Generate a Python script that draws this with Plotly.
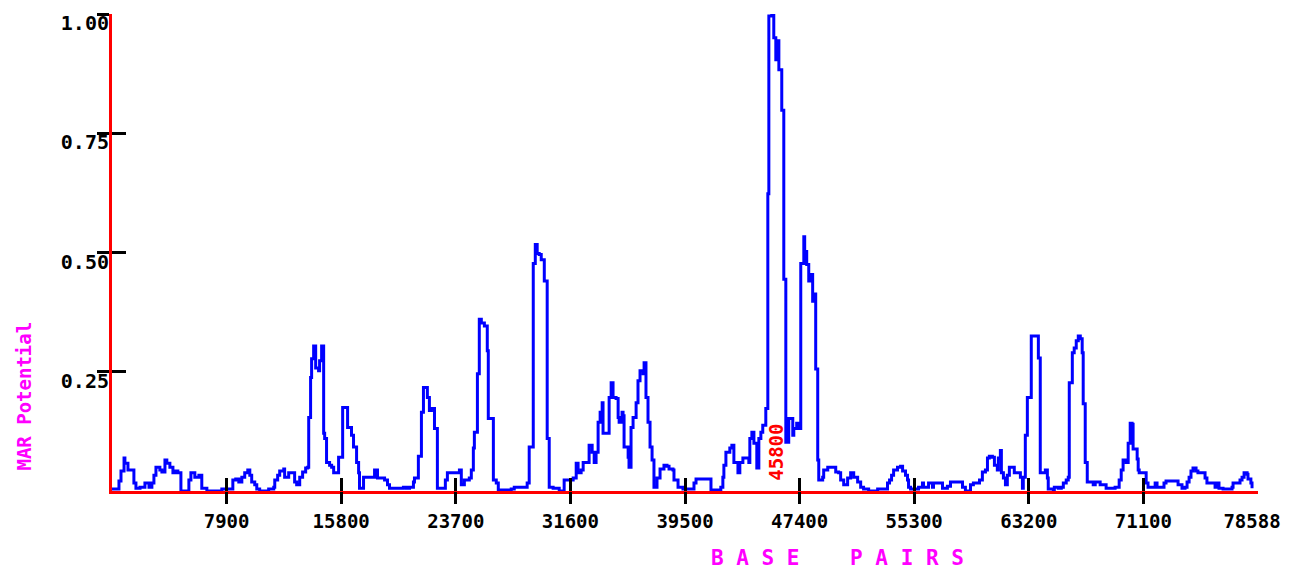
import plotly.graph_objects as go

# MAR potential profile along the sequence (step breakpoints: base pair -> value)
base_pairs = [
    0, 480, 620, 830, 890, 1100, 1510, 1650, 1930, 2270, 2550, 2750, 2890, 3030,
    3300, 3440, 3650, 3780, 3990, 4200, 4340, 4540, 4750, 5300, 5440, 5710, 5990,
    6190, 6540, 7570, 8330, 8530, 8740, 8950, 9150, 9360, 9500, 9630, 9840, 9980,
    10180, 10800, 11150, 11220, 11420, 11560, 11840, 11900, 12180, 12590, 12730,
    12940, 13140, 13350, 13490, 13560, 13690, 13760, 13900, 14040, 14240, 14310,
    14450, 14590, 14660, 14790, 15000, 15140, 15280, 15620, 15900, 16240, 16510,
    16650, 16860, 17000, 17060, 17340, 18100, 18300, 18790, 18990, 19130, 19400,
    20090, 20300, 20510, 20780, 20850, 21120, 21330, 21470, 21740, 21880, 22020,
    22230, 22430, 22980, 23120, 23950, 24080, 24290, 24630, 24770, 24910, 24980,
    25190, 25320, 25460, 25670, 25870, 25940, 26290, 26490, 26630, 27520, 27730,
    28620, 28760, 29040, 29180, 29310, 29450, 29590, 29800, 30000, 30140, 30410,
    30830, 31170, 31790, 32000, 32130, 32340, 32480, 32890, 33100, 33240, 33370,
    33510, 33650, 33790, 33850, 34270, 34410, 34540, 34750, 34890, 34960, 35160,
    35230, 35300, 35580, 35640, 35780, 35920, 36130, 36260, 36400, 36610, 36680,
    36810, 36950, 37090, 37230, 37360, 37570, 37780, 38050, 38260, 38400, 38670,
    38740, 39020, 39360, 40120, 40260, 41290, 41970, 42110, 42180, 42320, 42590,
    42730, 42870, 43150, 43280, 43490, 43900, 43970, 44110, 44250, 44450, 44590,
    44730, 44860, 45070, 45210, 45280, 45480, 45620, 45760, 45900, 45970, 46170,
    46310, 46450, 46650, 46930, 47000, 47200, 47340, 47480, 47690, 47750, 47890,
    48030, 48170, 48300, 48370, 48510, 48650, 48720, 48990, 49060, 49340, 49890,
    50090, 50230, 50440, 50710, 50920, 51130, 51400, 51610, 51810, 52160, 52780,
    53460, 53600, 53740, 53880, 54150, 54360, 54500, 54700, 54840, 54910, 55050,
    55600, 55870, 55940, 56290, 56560, 56630, 57250, 57590, 57800, 58630, 58830,
    59180, 59380, 59800, 60000, 60210, 60350, 60480, 60690, 60830, 61030, 61100,
    61240, 61310, 61450, 61590, 61720, 61860, 62200, 62620, 62760, 62820, 62960,
    63100, 63370, 63860, 63990, 64340, 64480, 64540, 64890, 64960, 65230, 65440,
    65580, 65780, 65920, 65990, 66200, 66330, 66470, 66610, 66750, 66880, 66950,
    67090, 67230, 67640, 67780, 68120, 68530, 69150, 69430, 69570, 69700, 69910,
    70050, 70190, 70320, 70390, 70670, 70740, 70810, 71290, 71420, 71910, 72040,
    72520, 72660, 73490, 73760, 73970, 74110, 74250, 74380, 74520, 74730, 74860,
    75350, 75480, 76040, 76170, 76310, 76590, 77210, 77280, 77760, 77900, 78040,
    78250, 78310, 78510, 78588,
]
mar_potential = [
    0.004, 0.021, 0.042, 0.069, 0.058, 0.044, 0.017, 0.006, 0.008, 0.017, 0.008, 0.017, 0.033, 0.050,
    0.044, 0.040, 0.065, 0.058, 0.050, 0.038, 0.042, 0.038, 0.0, 0.023, 0.038, 0.029, 0.033,
    0.006, 0.0, 0.004, 0.023, 0.025, 0.019, 0.029, 0.038, 0.044, 0.033, 0.019, 0.013, 0.004,
    0.0, 0.004, 0.008, 0.023, 0.033, 0.042, 0.046, 0.029, 0.038, 0.019, 0.013,
    0.029, 0.040, 0.048, 0.050, 0.154, 0.238, 0.277, 0.304, 0.258, 0.252, 0.273,
    0.304, 0.121, 0.110, 0.060, 0.054, 0.050, 0.038, 0.071, 0.175, 0.133, 0.117,
    0.092, 0.060, 0.038, 0.006, 0.029, 0.044, 0.027, 0.023, 0.013, 0.006, 0.006,
    0.008, 0.006, 0.008, 0.019, 0.027, 0.073, 0.165, 0.217, 0.196, 0.169, 0.173,
    0.131, 0.006, 0.023, 0.038, 0.044, 0.013, 0.023, 0.027, 0.044, 0.090, 0.123,
    0.246, 0.360, 0.352, 0.346, 0.294, 0.152, 0.023, 0.017, 0.002, 0.004, 0.008,
    0.017, 0.092, 0.477, 0.517, 0.498, 0.496, 0.485, 0.440, 0.110, 0.008, 0.006,
    0.0, 0.023, 0.027, 0.058, 0.038, 0.044, 0.060, 0.096, 0.081, 0.060, 0.081,
    0.144, 0.165, 0.185, 0.121, 0.196, 0.227, 0.196, 0.194, 0.154, 0.144, 0.165,
    0.158, 0.092, 0.071, 0.050, 0.133, 0.154, 0.185, 0.231, 0.252, 0.246, 0.269,
    0.196, 0.144, 0.092, 0.065, 0.008, 0.027, 0.046, 0.054, 0.052, 0.046, 0.044,
    0.023, 0.008, 0.004, 0.017, 0.025, 0.002, 0.008, 0.029, 0.054, 0.081, 0.090,
    0.096, 0.060, 0.038, 0.060, 0.069, 0.060, 0.110, 0.123, 0.100, 0.048, 0.110,
    0.123, 0.138, 0.173, 0.623, 0.996, 1.000, 0.950, 0.904, 0.944, 0.883, 0.798,
    0.444, 0.102, 0.152, 0.117, 0.131, 0.142, 0.131, 0.477, 0.533, 0.502, 0.475,
    0.440, 0.454, 0.398, 0.413, 0.256, 0.065, 0.023, 0.029, 0.044, 0.050, 0.040,
    0.038, 0.023, 0.013, 0.027, 0.038, 0.029, 0.019, 0.008, 0.004, 0.0, 0.004,
    0.017, 0.023, 0.033, 0.044, 0.050, 0.052, 0.042, 0.033, 0.023, 0.008, 0.004,
    0.008, 0.017, 0.008, 0.017, 0.008, 0.017, 0.006, 0.010, 0.019, 0.008, 0.0,
    0.013, 0.017, 0.023, 0.040, 0.044, 0.069, 0.073, 0.071, 0.054, 0.044, 0.069,
    0.085, 0.038, 0.027, 0.013, 0.033, 0.050, 0.038, 0.029, 0.006, 0.029, 0.117,
    0.196, 0.325, 0.279, 0.038, 0.044, 0.027, 0.004, 0.0, 0.008, 0.006, 0.008,
    0.017, 0.023, 0.029, 0.227, 0.290, 0.300, 0.315, 0.325, 0.319, 0.290, 0.183,
    0.060, 0.019, 0.013, 0.019, 0.013, 0.006, 0.008, 0.023, 0.044, 0.065, 0.060,
    0.100, 0.142, 0.140, 0.088, 0.067, 0.044, 0.038, 0.017, 0.008, 0.017, 0.008,
    0.017, 0.021, 0.013, 0.006, 0.008, 0.019, 0.029, 0.042, 0.048, 0.042, 0.038,
    0.027, 0.017, 0.008, 0.017, 0.006, 0.004, 0.008, 0.017, 0.023, 0.029, 0.038,
    0.035, 0.025, 0.017, 0.006,
]

x_tick_vals = [7900, 15800, 23700, 31600, 39500, 47400, 55300, 63200, 71100, 78588]
x_tick_text = ["7900", "15800", "23700", "31600", "39500", "47400", "55300",
               "63200", "71100", "78588"]
x_mark_vals = [7900, 15800, 23700, 31600, 39500, 47400, 55300, 63200, 71100]
y_tick_vals = [0.25, 0.50, 0.75, 1.00]
y_tick_text = ["0.25", "0.50", "0.75", "1.00"]

marked_position = 45800
marked_label = "45800"

X_RANGE = [0, 79000]
Y_RANGE = [0, 1.0]
MONO = "DejaVu Sans Mono"

fig = go.Figure()
fig.add_trace(go.Scatter(
    x=base_pairs, y=mar_potential, mode="lines",
    line=dict(color="#0000FF", width=3, shape="hv"),
    hoverinfo="x+y", showlegend=False,
))
# helper traces so the overlay axes (tick marks crossing the axis lines) get drawn
fig.add_trace(go.Scatter(x=[None], y=[None], xaxis="x2", yaxis="y2",
                         showlegend=False, hoverinfo="skip"))
fig.add_trace(go.Scatter(x=[None], y=[None], xaxis="x3", yaxis="y",
                         showlegend=False, hoverinfo="skip"))

fig.update_layout(
    width=1294, height=569,
    margin=dict(l=112, r=36, t=11, b=78),
    paper_bgcolor="white", plot_bgcolor="white",
    font=dict(family=MONO, color="black"),
    xaxis=dict(
        range=X_RANGE, showgrid=False, zeroline=False,
        showline=True, linecolor="#FF0000", linewidth=3,
        tickmode="array", tickvals=x_tick_vals, ticktext=x_tick_text,
        ticks="", ticklabelstandoff=11,
        tickfont=dict(family=MONO, size=19, color="black", weight="bold"),
        layer="below traces",
    ),
    yaxis=dict(
        range=Y_RANGE, showgrid=False, zeroline=False,
        showline=True, linecolor="#FF0000", linewidth=3,
        tickmode="array", tickvals=y_tick_vals, ticktext=y_tick_text,
        ticks="outside", ticklen=12, tickwidth=3, tickcolor="black",
        ticklabelstandoff=-16, ticklabelshift=9,
        tickfont=dict(family=MONO, size=20, color="black", weight="bold"),
        layer="below traces",
    ),
    xaxis2=dict(
        overlaying="x", matches="x", anchor="y2", range=X_RANGE,
        showgrid=False, zeroline=False, showline=False,
        tickmode="array", tickvals=x_mark_vals, showticklabels=False,
        ticks="outside", ticklen=12, tickwidth=3, tickcolor="black",
    ),
    yaxis2=dict(
        overlaying="y", matches="y", anchor="x2", range=Y_RANGE,
        showgrid=False, zeroline=False, showline=False,
        tickmode="array", tickvals=y_tick_vals, showticklabels=False,
        ticks="inside", ticklen=14, tickwidth=3, tickcolor="black",
    ),
    xaxis3=dict(
        overlaying="x", matches="x", anchor="y", range=X_RANGE,
        showgrid=False, zeroline=False, showline=False,
        tickmode="array", tickvals=x_mark_vals, showticklabels=False,
        ticks="inside", ticklen=13, tickwidth=3, tickcolor="black",
    ),
)

# marked position label
fig.add_annotation(
    x=marked_position, y=0.081, xref="x", yref="y",
    text=marked_label, textangle=-90, showarrow=False,
    font=dict(family=MONO, size=19, color="#FF0000", weight="bold"),
)

# axis titles
fig.add_annotation(
    x=0.633, y=0, xref="paper", yref="paper", yshift=-67,
    text="B A S E    P A I R S", showarrow=False,
    xanchor="center", yanchor="middle",
    font=dict(family=MONO, size=21, color="#FF00FF", weight="bold"),
)
fig.add_annotation(
    x=0, y=0.198, xref="paper", yref="paper", xshift=-88,
    text="MAR Potential", textangle=-90, showarrow=False,
    xanchor="center", yanchor="middle",
    font=dict(family=MONO, size=19, color="#FF00FF", weight="bold"),
)

fig.write_html("out.html")
